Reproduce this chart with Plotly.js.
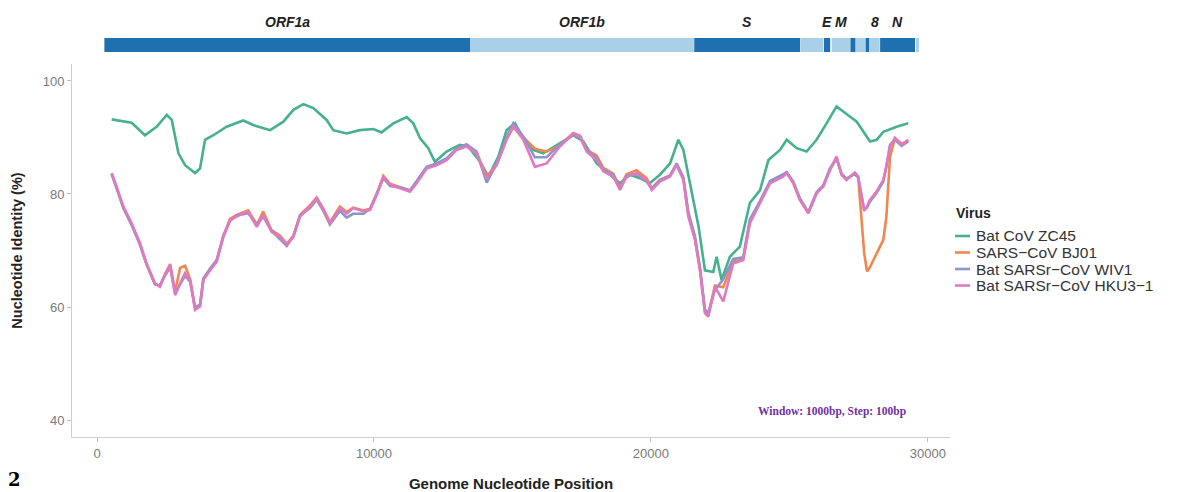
<!DOCTYPE html>
<html>
<head>
<meta charset="utf-8">
<script src="https://cdn.plot.ly/plotly-3.0.1.min.js"></script>
<style>html,body{margin:0;padding:0;background:#fff;}#chart{width:1180px;height:492px;}</style>
</head>
<body>
<div id="chart"></div>
<script>
// ---- Data ----
const seriesNames = ["Bat CoV ZC45", "SARS\u2212CoV BJ01", "Bat SARSr\u2212CoV WIV1", "Bat SARSr\u2212CoV HKU3\u22121"];
const legendTitle = "Virus";

const zc45Pos = [530,950,1250,1730,2150,2520,2700,2940,3180,3540,3720,3900,4200,4680,5280,5640,6250,6730,7090,7450,7810,8290,8530,9010,9490,9980,10270,10700,11180,11420,11660,11960,12200,12620,13100,13400,13830,14130,14490,14790,15090,15390,15750,16110,16600,17190,17560,18040,18520,18880,19240,19600,19960,20320,20690,20990,21170,21420,21720,21950,22250,22370,22550,22850,23210,23570,23940,24240,24660,24900,25260,25620,25980,26340,26700,27180,27430,27910,28150,28390,28870,29290];
const zc45Id = [93.2,92.8,92.6,90.4,91.9,94.0,93.1,87.2,85.1,83.7,84.5,89.6,90.4,91.9,93.0,92.2,91.3,92.8,94.9,95.9,95.2,93.1,91.3,90.7,91.3,91.5,90.9,92.5,93.6,92.5,89.9,88.1,85.7,87.5,88.7,88.4,85.7,83.1,86.6,91.3,92.5,89.9,87.8,87.2,88.7,90.4,89.3,85.4,83.4,81.9,83.4,82.8,81.9,83.4,85.4,89.6,87.8,81.3,74.2,66.5,66.2,68.9,64.8,68.9,70.7,78.4,80.7,86.0,87.8,89.6,88.1,87.5,89.6,92.5,95.5,93.7,92.8,89.3,89.6,91.0,91.9,92.5];

const sarsPos = [530,710,950,1250,1550,1790,2090,2270,2450,2640,2820,3000,3180,3360,3540,3720,3840,4080,4320,4560,4800,5040,5280,5460,5770,6000,6300,6610,6850,7090,7330,7690,7930,8170,8410,8770,9010,9250,9620,9860,10100,10340,10580,10940,11300,11540,11900,12260,12620,12980,13340,13700,14070,14430,14790,15030,15390,15810,16230,16710,17190,17440,17680,18040,18280,18640,18880,19120,19480,19840,20030,20320,20690,20930,21170,21350,21590,21770,21950,22070,22310,22610,22970,23330,23570,23940,24300,24780,24900,25140,25380,25680,25980,26220,26460,26700,26880,27060,27360,27480,27600,27700,27800,27900,28150,28390,28500,28630,28810,29050,29290];
const hku3Id = [83.7,81.3,77.8,74.8,71.3,67.7,64.2,63.6,65.7,67.4,62.1,64.2,66.0,64.8,59.5,60.1,64.8,66.5,68.0,72.4,75.4,76.0,76.6,76.9,74.2,76.3,73.3,72.4,71.0,72.4,76.0,77.8,79.2,77.2,74.8,77.5,76.5,77.5,76.9,77.2,79.8,83.1,81.6,81.0,80.4,81.9,84.5,85.1,86.0,87.8,88.4,87.2,82.8,85.1,89.6,92.0,89.6,84.8,85.4,88.4,90.7,90.2,87.5,86.0,84.0,83.1,80.7,83.1,83.7,82.5,80.7,82.2,83.1,85.1,82.5,76.0,71.9,66.5,58.9,58.3,63.6,61.0,67.7,68.3,74.8,78.4,81.9,83.1,83.7,81.9,78.9,76.6,80.1,81.3,84.2,86.6,83.4,82.5,83.8,83.1,80.0,77.0,77.8,78.9,80.5,82.5,85.0,88.4,89.9,88.7,89.6];
const wiv1Id = [83.5,81.0,77.5,74.5,71.0,67.5,64.0,63.8,65.5,67.0,62.5,64.0,65.5,64.5,59.8,60.5,65.0,66.8,68.3,72.6,75.2,76.2,76.4,76.6,74.5,76.0,73.5,72.0,70.8,72.6,76.2,77.5,79.0,77.0,74.6,77.0,75.8,76.5,76.5,77.4,80.0,82.8,81.4,81.2,80.6,82.2,84.8,85.4,86.3,88.0,88.8,87.5,82.0,85.4,90.0,92.5,90.2,86.5,86.5,88.8,90.4,90.0,87.8,86.3,84.3,83.4,81.0,83.3,83.5,82.2,81.0,82.4,83.3,85.4,83.0,76.8,72.5,67.0,59.5,59.0,63.0,64.9,68.5,68.8,75.5,78.8,82.3,83.5,83.9,82.2,79.2,76.8,80.3,81.5,84.5,86.2,83.6,82.7,83.5,82.9,79.8,77.3,77.6,78.6,80.2,82.2,84.8,88.7,89.6,88.5,89.3];
const bj01Id = [83.6,81.2,77.6,74.6,71.2,67.6,64.1,63.7,65.8,67.6,62.8,66.9,67.3,65.0,60.0,60.3,65.0,66.7,68.2,72.5,75.6,76.3,76.8,77.1,74.6,76.9,73.6,72.6,71.2,72.6,76.3,78.0,79.4,77.4,75.0,77.8,76.8,77.6,77.1,77.4,80.0,83.2,81.8,81.2,80.6,82.1,84.7,85.3,86.2,88.0,88.6,87.4,83.1,85.3,89.8,91.8,90.0,88.0,87.5,88.6,90.8,90.3,87.8,86.8,84.6,83.6,81.2,83.5,84.2,82.8,81.0,82.5,83.3,85.2,82.7,76.3,72.0,66.7,59.2,58.6,63.8,63.5,68.0,68.5,75.0,78.6,82.1,83.3,83.8,82.0,79.0,76.7,80.2,81.4,84.3,86.5,83.5,82.6,83.7,83.1,75.0,69.5,66.3,67.0,69.5,71.9,76.0,86.5,89.9,88.9,89.4];

// Genome annotation (SARS-CoV-2 reference coordinates)
const geneNames = ["ORF1a","ORF1b","S","ORF3a","E","M","ORF6","ORF7a","ORF7b","ORF8","N","ORF10"];
const geneLabels = ["ORF1a","ORF1b","S","","E","M","","","","8","N",""];
const geneStart = [266,13468,21563,25393,26245,26523,27202,27394,27756,27894,28274,29558];
const geneEnd   = [13483,21555,25384,26220,26472,27191,27387,27759,27887,28259,29533,29674];

const xTicks = [0,10000,20000,30000];
const yTicks = [40,60,80,100];

// ---- Styles ----
const lineColors = ["#46b08f","#f08650","#8896c9","#e07ac0"];
const darkBlue = "#1f70ae", lightBlue = "#a9d0e6";

const traces = [];
const seriesX = [zc45Pos, sarsPos, sarsPos, sarsPos];
const seriesY = [zc45Id, bj01Id, wiv1Id, hku3Id];
for (let i = 0; i < 4; i++) {
  traces.push({
    type: "scatter", mode: "lines", name: seriesNames[i],
    x: seriesX[i], y: seriesY[i],
    line: {color: lineColors[i], width: 2.6, shape: "linear"},
    xaxis: "x", yaxis: "y", showlegend: false
  });
}
// Gene bar
traces.push({
  type: "bar", orientation: "h",
  base: geneStart,
  x: geneStart.map((s, i) => geneEnd[i] - s),
  y: geneStart.map(() => 0.5),
  width: geneStart.map(() => 1),
  marker: {color: geneStart.map((s, i) => i % 2 === 0 ? darkBlue : lightBlue), line: {width: 0}},
  xaxis: "x", yaxis: "y2", showlegend: false, hoverinfo: "skip"
});

const annotations = [];
const shapes = [];
geneLabels.forEach((lab, i) => {
  if (!lab) return;
  annotations.push({
    xref: "x", yref: "y2", x: (geneStart[i] + geneEnd[i]) / 2, y: 2.15,
    text: "<b><i>" + lab + "</i></b>", showarrow: false,
    font: {family: "Liberation Sans, Arial, sans-serif", size: 14, color: "#222"},
    xanchor: "center", yanchor: "middle"
  });
});
annotations.push({
  xref: "paper", yref: "paper", x: (832 - 72) / 878, y: (437 - 411) / 427,
  text: "<b>Window: 1000bp, Step: 100bp</b>", showarrow: false,
  font: {family: "Liberation Serif, serif", size: 11.5, color: "#7030a0"},
  xanchor: "center", yanchor: "middle"
});
annotations.push({
  xref: "paper", yref: "paper", x: -0.066, y: -0.100,
  text: "<b>2</b>", showarrow: false,
  font: {family: "DejaVu Serif, serif", size: 18, color: "#000"},
  xanchor: "center", yanchor: "middle"
});

// Legend (drawn in paper space, compact like the reference)
const plotL = 72, plotW = 878, plotB = 437, plotH = 427;
const px = v => (v - plotL) / plotW;
const py = v => (plotB - v) / plotH;
annotations.push({
  xref: "paper", yref: "paper", x: px(954), y: py(213),
  text: "<b>" + legendTitle + "</b>", showarrow: false,
  font: {family: "Liberation Sans, Arial, sans-serif", size: 14, color: "#222"},
  xanchor: "left", yanchor: "middle"
});
seriesNames.forEach((nm, i) => {
  const yy = 236 + 16.5 * i;
  shapes.push({
    type: "line", xref: "paper", yref: "paper",
    x0: px(955), x1: px(970), y0: py(yy), y1: py(yy),
    line: {color: lineColors[i], width: 2.6}
  });
  annotations.push({
    xref: "paper", yref: "paper", x: px(974), y: py(yy),
    text: nm, showarrow: false,
    font: {family: "Liberation Sans, Arial, sans-serif", size: 15.5, color: "#333"},
    xanchor: "left", yanchor: "middle"
  });
});

const layout = {
  width: 1180, height: 492,
  margin: {l: plotL, r: 1180 - plotL - plotW, t: 10, b: 492 - plotB},
  paper_bgcolor: "#fff", plot_bgcolor: "#fff",
  showlegend: false,
  font: {family: "Liberation Sans, Arial, sans-serif"},
  xaxis: {
    range: [-903, 30797], tickvals: xTicks, ticktext: xTicks.map(String),
    showgrid: false, zeroline: false, showline: true, linecolor: "#cfcfcf", linewidth: 1,
    ticks: "outside", ticklen: 4, tickcolor: "#bdbdbd",
    tickfont: {size: 13, color: "#7a7a7a"},
    title: {text: "<b>Genome Nucleotide Position</b>", font: {size: 15, color: "#222"}, standoff: 18},
    anchor: "y"
  },
  yaxis: {
    domain: [0, 0.8735], range: [37, 103], tickvals: yTicks, ticktext: yTicks.map(String),
    showgrid: false, zeroline: false, showline: true, linecolor: "#cfcfcf", linewidth: 1,
    ticks: "outside", ticklen: 4, tickcolor: "#bdbdbd",
    tickfont: {size: 13, color: "#7a7a7a"},
    title: {text: "<b>Nucleotide Identity (%)</b>", font: {size: 14.5, color: "#222"}, standoff: 16}
  },
  yaxis2: {domain: [0.9016, 1], range: [0, 3], visible: false, fixedrange: true, anchor: "x"},
  annotations: annotations,
  shapes: shapes
};

Plotly.newPlot("chart", traces, layout, {displayModeBar: false, staticPlot: true});
</script>
</body>
</html>
